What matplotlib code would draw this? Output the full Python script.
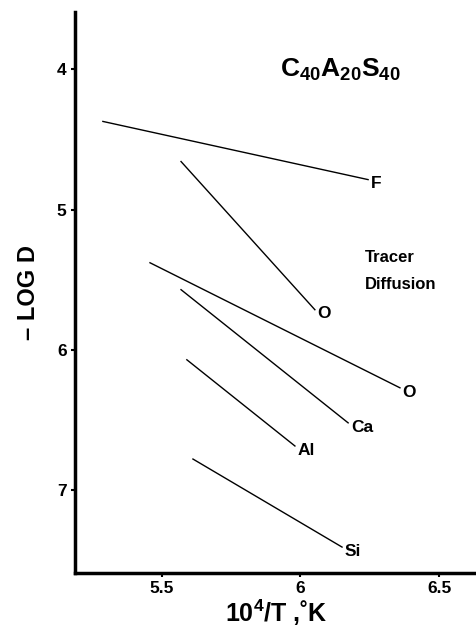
import matplotlib
matplotlib.use('Agg')
import matplotlib.pyplot as plt

plt.rcParams['font.family'] = ['Liberation Sans', 'DejaVu Sans']
plt.rcParams['mathtext.fontset'] = 'custom'
plt.rcParams['mathtext.rm'] = 'Liberation Sans:bold'
plt.rcParams['mathtext.bf'] = 'Liberation Sans:bold'

# Tracer diffusion lines: (x start, x end), (y start, y end)
species = ['F', 'O', 'O', 'Ca', 'Al', 'Si']
x_start = [5.287, 5.569, 5.457, 5.569, 5.590, 5.612]
x_end = [6.244, 6.052, 6.359, 6.172, 5.980, 6.150]
y_start = [4.371, 4.657, 5.379, 5.571, 6.071, 6.779]
y_end = [4.786, 5.714, 6.271, 6.521, 6.686, 7.407]

x_ticks = [5.5, 6.0, 6.5]
x_tick_labels = ['5.5', '6', '6.5']
y_ticks = [4, 5, 6, 7]

fig = plt.figure(figsize=(4.77, 6.28), dpi=100)
ax = fig.add_axes([0.157, 0.088, 0.843, 0.893])

for name, x0, x1, y0, y1 in zip(species, x_start, x_end, y_start, y_end):
    ax.plot([x0, x1], [y0, y1], color='black', linewidth=1.0)
    ax.text(x1 + 0.01, y1 + 0.03, name, fontsize=12.5, fontweight='bold',
            ha='left', va='center')

ax.text(6.143, 4.0, r'$\mathbf{C_{40}A_{20}S_{40}}$', fontsize=19,
        ha='center', va='center')
ax.text(6.233, 5.44, 'Tracer\nDiffusion', fontsize=12, fontweight='bold',
        ha='left', va='center', linespacing=2.0)

ax.set_xlim(5.186, 6.637)
ax.set_ylim(7.59, 3.59)
ax.set_xticks(x_ticks)
ax.set_xticklabels(x_tick_labels)
ax.set_yticks(y_ticks)

ax.spines['top'].set_visible(False)
ax.spines['right'].set_visible(False)
ax.spines['left'].set_linewidth(2.5)
ax.spines['bottom'].set_linewidth(2.5)
ax.tick_params(direction='out', length=3, width=1.5, labelsize=12.5, pad=3)
for lbl in ax.get_xticklabels() + ax.get_yticklabels():
    lbl.set_fontweight('bold')

ax.set_ylabel('– LOG D', fontsize=17, fontweight='bold', labelpad=12)
ax.set_xlabel(r'10$^{\mathbf{4}}$/T ,˚K', fontsize=18, fontweight='bold', labelpad=1)

fig.savefig('out.png', dpi=100)
